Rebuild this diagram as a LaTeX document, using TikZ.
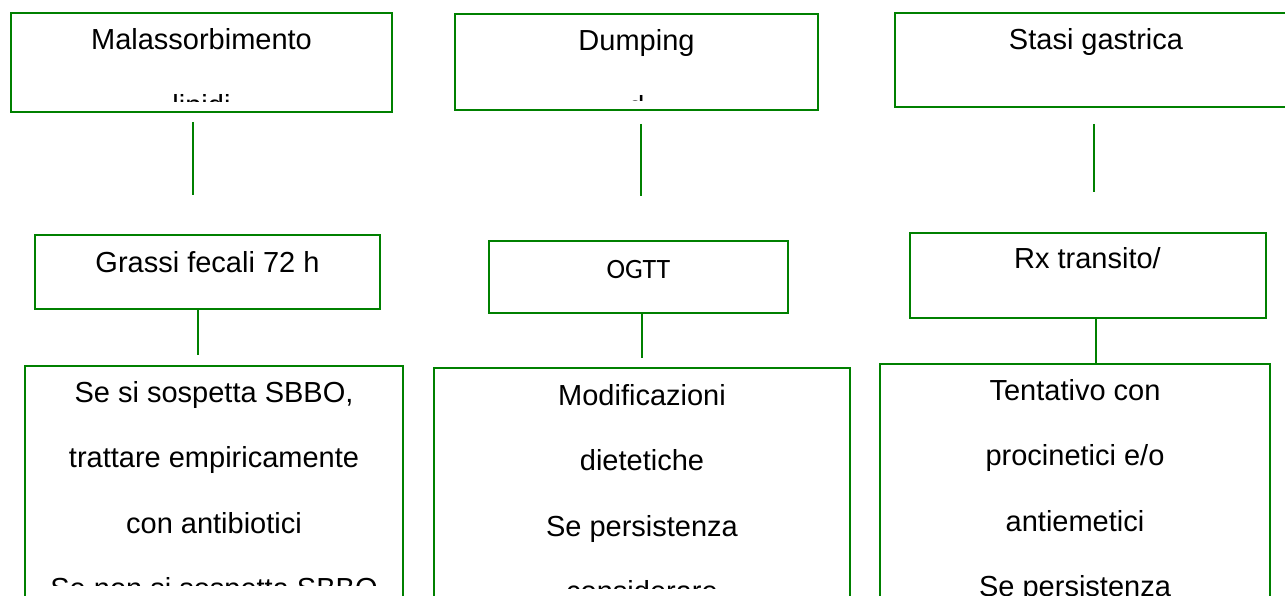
\documentclass[tikz,border=0pt]{standalone}
\usepackage{fontspec}
\setmainfont{Liberation Sans}
\newfontfamily\calibfont{Carlito}
\definecolor{boxgreen}{RGB}{0,128,0}
\tikzset{
  box/.style={draw=boxgreen,line width=2pt,inner sep=0pt,outer sep=0pt,anchor=north west},
  txt/.style={align=center,inner sep=0pt,anchor=base,font=\fontsize{29}{65.5}\selectfont},
  link/.style={draw=boxgreen,line width=1.5pt},
}
\begin{document}
\begin{tikzpicture}[x=1pt,y=-1pt]
\useasboundingbox (0,0) rectangle (1285,596);
\clip (0,0) rectangle (1285,596);

\node[box,minimum width=381,minimum height=99] (mal) at (11,13) {};
\node[box,minimum width=363,minimum height=96] (dump) at (455,14) {};
\node[box,minimum width=402,minimum height=94] (stasi) at (895,13) {};

% multi-line texts sit on the baseline of their last line
\begin{scope}
\clip (11,13) rectangle (392,102);
\node[txt] (maltxt) at (201.5,115.5) {Malassorbimento\\lipidi};
\end{scope}
\begin{scope}
\clip (455,14) rectangle (818,101);
\node[txt] (dumptxt) at (636.5,116.5) {Dumping\\d\hspace{17pt}};
\end{scope}
\node[txt] (stasitxt) at (1096,50) {Stasi gastrica};

\coordinate (ta1) at (193,122);
\coordinate (tb1) at (193,195);
\coordinate (ta2) at (641,124);
\coordinate (tb2) at (641,196);
\coordinate (ta3) at (1094,124);
\coordinate (tb3) at (1094,192);
\draw[link] (ta1) -- (tb1);
\draw[link] (ta2) -- (tb2);
\draw[link] (ta3) -- (tb3);

\node[box,minimum width=345,minimum height=74] (grassi) at (35,235) {};
\node[box,minimum width=299,minimum height=72] (ogtt) at (489,241) {};
\node[box,minimum width=356,minimum height=85] (rx) at (910,233) {};
\node[txt] (grassitxt) at (207.5,272) {Grassi fecali 72 h};
\node[txt,font=\calibfont\fontsize{28}{34}\selectfont] (ogtttxt) at (638.5,278) {OGTT};
\node[txt] (rxtxt) at (1087.5,268) {Rx transito/};

\node[box,minimum width=378,minimum height=280] (sbbo) at (25,366) {};
\node[box,minimum width=416,minimum height=280] (dieta) at (434,368) {};
\node[box,minimum width=390,minimum height=280] (procin) at (880,364) {};

\coordinate (mb1) at (198,355);
\coordinate (mb2) at (642,358);
\draw[link] (grassi.south -| mb1) -- (mb1);
\draw[link] (ogtt.south -| mb2) -- (mb2);
\draw[link] (rx.south -| 1096,0) -- (procin.north -| 1096,0);

\begin{scope}
\clip (25,366) rectangle (403,585);
\node[txt] (sbbotxt) at (214,598.5) {Se si sospetta SBBO,\\trattare empiricamente\\con antibiotici\\Se non si sospetta SBBO};
\end{scope}
\begin{scope}
\clip (434,368) rectangle (850,588);
\node[txt] (dietatxt) at (642,601.5) {Modificazioni\\dietetiche\\Se persistenza\\considerare};
\end{scope}
\node[txt] (procintxt) at (1075,596.5) {Tentativo con\\procinetici e/o\\antiemetici\\Se persistenza};
\end{tikzpicture}
\end{document}
